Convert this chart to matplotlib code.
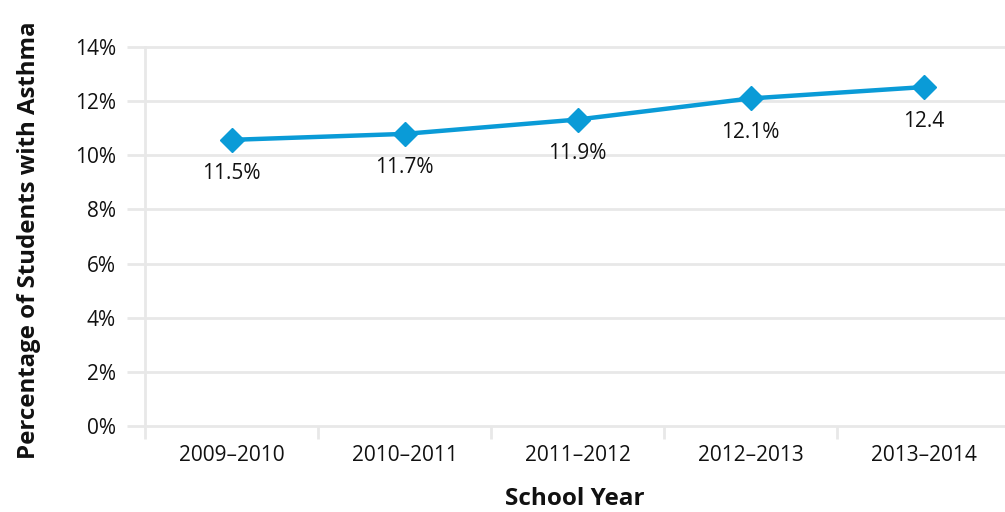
import matplotlib
matplotlib.use("Agg")
import matplotlib.pyplot as plt
from matplotlib.ticker import FixedLocator

plt.rcParams['font.family'] = ['Open Sans', 'DejaVu Sans']

years = ["2009–2010", "2010–2011", "2011–2012", "2012–2013", "2013–2014"]
values = [10.57, 10.79, 11.32, 12.1, 12.52]
labels = ["11.5%", "11.7%", "11.9%", "12.1%", "12.4"]
yticks = [0, 2, 4, 6, 8, 10, 12, 14]

W, H = 1005, 512
fig = plt.figure(figsize=(W / 100, H / 100), dpi=100)
ax = fig.add_axes([145 / W, (H - 426) / H, (1005 - 145) / W, (426 - 47) / H])

grid_c = "#e8e8e8"
line_c = "#0a9bd7"
text_c = "#111111"

x = list(range(len(years)))
ax.set_xlim(-0.5, 4.47)
ax.set_ylim(0, 14)

for yv in yticks:
    ax.axhline(yv, color=grid_c, lw=2, zorder=0, clip_on=False)

ax.plot(x, values, color=line_c, lw=3.2, marker='D', ms=12, zorder=3, clip_on=False)
for xi, v, t in zip(x, values, labels):
    ax.annotate(t, (xi, v), xytext=(0, -24.5), textcoords='offset points',
                ha='center', va='center', fontsize=15, color=text_c)

for s in ['top', 'right', 'bottom']:
    ax.spines[s].set_visible(False)
ax.spines['left'].set_color(grid_c)
ax.spines['left'].set_linewidth(2)

ax.set_yticks(yticks)
ax.set_yticklabels([f"{v}%" for v in yticks])
ax.tick_params(axis='y', length=13, width=2, color=grid_c, pad=8, labelsize=15, labelcolor=text_c)

ax.set_xticks(x)
ax.set_xticklabels(years)
ax.tick_params(axis='x', which='major', length=0, pad=14, labelsize=15, labelcolor=text_c)
ax.xaxis.set_minor_locator(FixedLocator([-0.5, 0.5, 1.5, 2.5, 3.5]))
ax.tick_params(axis='x', which='minor', length=9, width=2, color=grid_c)

ax.set_xlabel("School Year", fontsize=17.5, fontweight='bold', labelpad=15, color=text_c)
ax.set_ylabel("Percentage of Students with Asthma", fontsize=17.3, fontweight='bold', color=text_c)
ax.yaxis.set_label_coords(-104 / 860, 0.49)

fig.savefig("out.png", dpi=100)
